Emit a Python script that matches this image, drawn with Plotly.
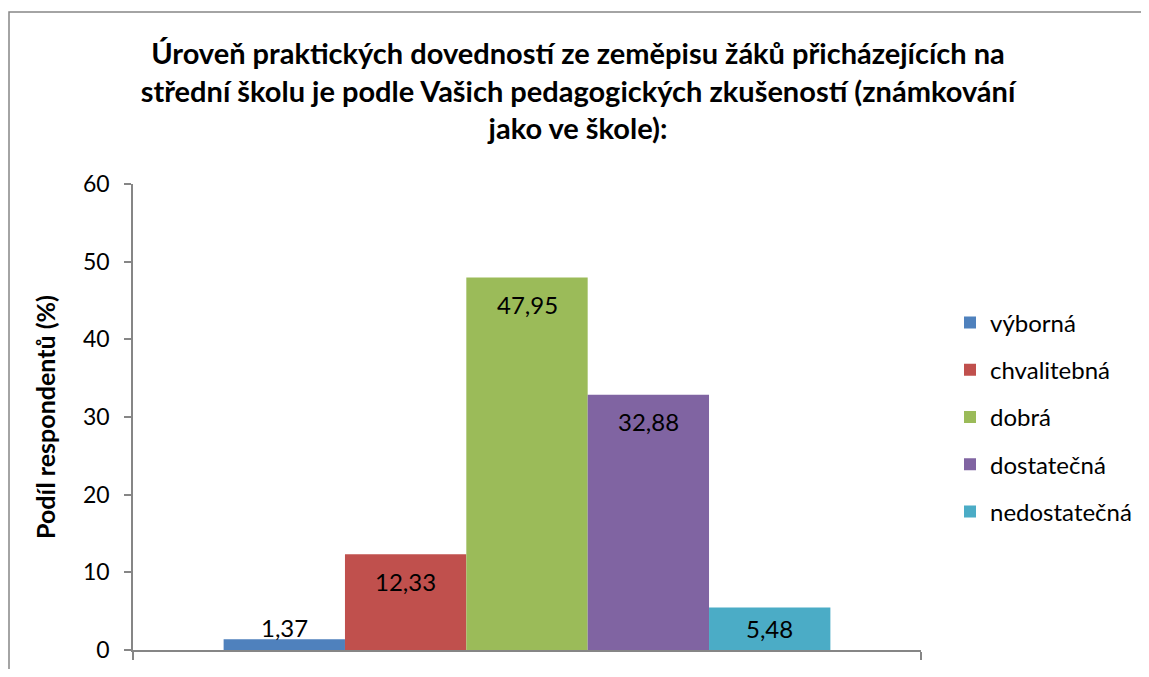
import plotly.graph_objects as go

categories = ["výborná", "chvalitebná", "dobrá", "dostatečná", "nedostatečná"]
values = [1.37, 12.33, 47.95, 32.88, 5.48]
labels = ["1,37", "12,33", "47,95", "32,88", "5,48"]
colors = ["#4F81BD", "#C0504D", "#9BBB59", "#8064A2", "#4BACC6"]
y_ticks = [0, 10, 20, 30, 40, 50, 60]

title_text = ("Úroveň praktických dovedností ze zeměpisu žáků přicházejících na<br>"
              "střední školu je podle Vašich pedagogických zkušeností (známkování<br>"
              "jako ve škole):")

FONT = "Lato"
# page has an 8px body margin; size the figure to fit the 1149x677 window
W, H = 1133, 661
L, R, T, B = 125, 220, 176, 19
plot_w = W - L - R
plot_h = H - T - B
bargap = 0.23
bar_px = plot_w * (1 - bargap) / len(categories)

fig = go.Figure()
for i, (name, v, c) in enumerate(zip(categories, values, colors)):
    fig.add_trace(go.Bar(
        x=[""], y=[v], name=name, marker=dict(color=c, line=dict(width=0)),
        legendgroup=name, hoverinfo="skip",
    ))

annotations = []
for i, (v, lab) in enumerate(zip(values, labels)):
    bar_h = v / 60 * plot_h
    if bar_h < 15:
        yshift = 12
    elif bar_h < 50:
        yshift = -bar_h / 2
    else:
        yshift = -27
    annotations.append(dict(
        x=0, y=v, xref="x", yref="y", text=lab, showarrow=False,
        xshift=(i - (len(values) - 1) / 2) * bar_px, yshift=yshift,
        font=dict(family=FONT, size=24, color="#000000"),
        xanchor="center", yanchor="middle",
    ))

fig.update_layout(
    width=W, height=H,
    margin=dict(l=L, r=R, t=T, b=B, autoexpand=False),
    paper_bgcolor="white", plot_bgcolor="white",
    barmode="group", bargap=bargap, bargroupgap=0,
    title=dict(text=title_text, x=570 / W, xanchor="center", xref="container",
               y=1 - 56 / H, yanchor="top", yref="container",
               font=dict(family=FONT, size=29, color="#000000", weight="bold"),
               pad=dict(t=0)),
    font=dict(family=FONT, size=24, color="#000000"),
    showlegend=True,
    legend=dict(x=(942 - L) / plot_w, y=0.5, xanchor="left", yanchor="middle",
                font=dict(family=FONT, size=24, color="#000000"),
                tracegroupgap=13, bgcolor="rgba(0,0,0,0)"),
    annotations=annotations,
    shapes=[dict(type="rect", xref="paper", yref="paper",
                 x0=(1 - L) / plot_w, x1=(W + 20 - L) / plot_w,
                 y0=-60 / plot_h, y1=(H - B - 4) / plot_h,
                 line=dict(color="#868686", width=1.5), fillcolor="rgba(0,0,0,0)",
                 layer="below")],
)

fig.update_xaxes(
    type="category", range=[-0.5, 0.5], showticklabels=False,
    showline=True, linecolor="#868686", linewidth=1.5,
    ticks="outside", tickson="boundaries", ticklen=8, tickcolor="#868686", tickwidth=1.5,
    showgrid=False, zeroline=False, fixedrange=True,
)
fig.update_yaxes(
    range=[0, 60], tickvals=y_ticks, ticktext=[str(t) for t in y_ticks],
    showline=True, linecolor="#868686", linewidth=1.5,
    ticks="outside", ticklen=7, tickcolor="#868686", tickwidth=1.5,
    ticklabelstandoff=10,
    showgrid=False, zeroline=False,
    tickfont=dict(family=FONT, size=23, color="#000000"),
    title=dict(text="Podíl respondentů (%)", standoff=20,
               font=dict(family=FONT, size=25, color="#000000", weight="bold")),
)

fig.write_html("out.html")
